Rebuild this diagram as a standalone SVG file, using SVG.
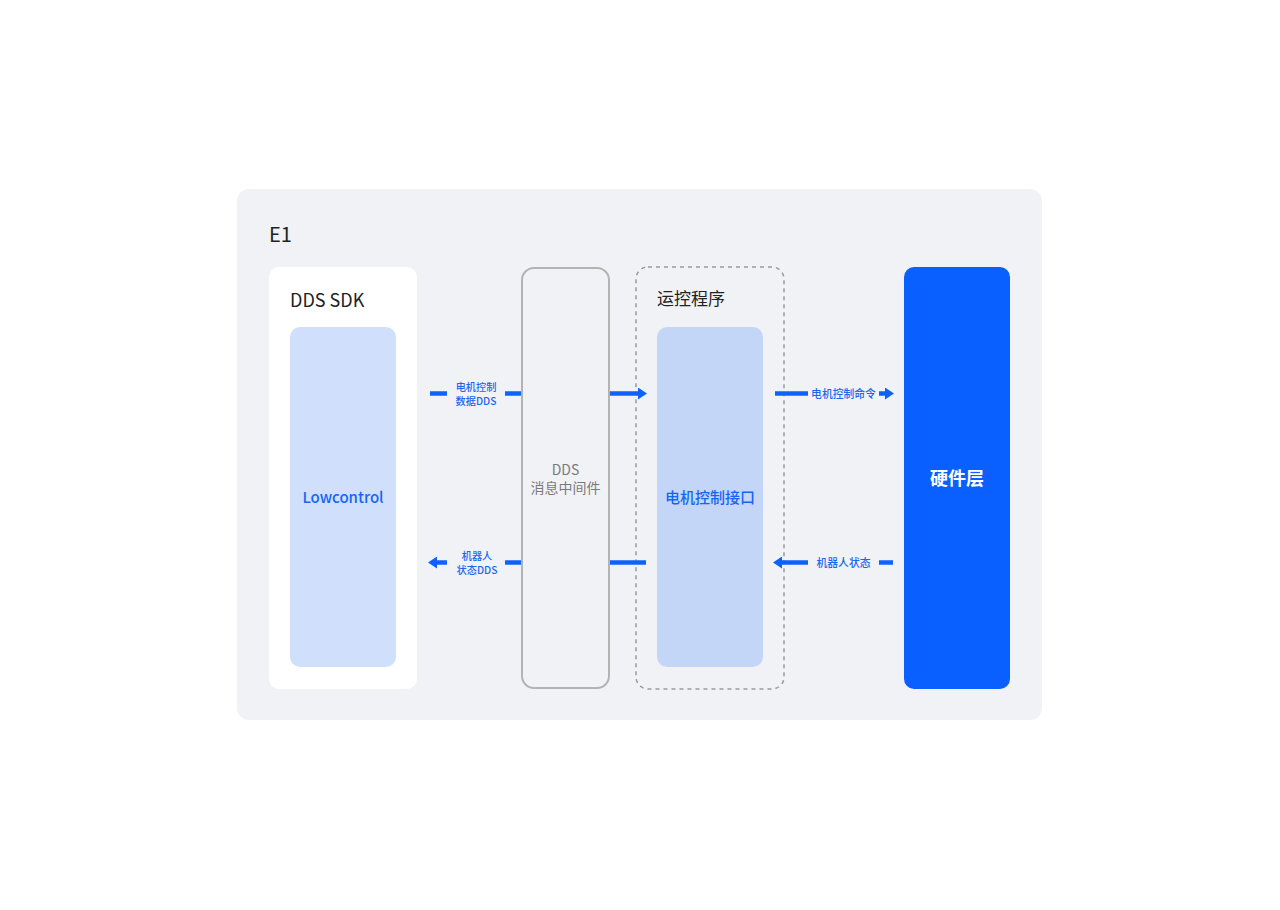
<svg xmlns="http://www.w3.org/2000/svg" width="1280" height="910" viewBox="0 0 1280 910">
<style>
text{font-family:"Noto Sans CJK SC","Noto Sans",sans-serif}
.title{font-size:18px;fill:#222}
.lbl{font-size:10.8px;fill:#1a66f0;font-weight:500}
.lbl2{font-size:10.2px;fill:#1a66f0;font-weight:500}
.ln{stroke:#0c62fb;stroke-width:4.5;fill:none}
</style>
<defs>
<marker id="ah" markerUnits="userSpaceOnUse" markerWidth="10" markerHeight="12" refX="1" refY="6" orient="auto">
<path d="M0,0 L9,6 L0,12 Z" fill="#0c62fb"/>
</marker>
</defs>
<rect width="1280" height="910" fill="#ffffff"/>
<g id="frame">
<rect x="237" y="189" width="805" height="531" rx="12" fill="#f1f2f6"/>
<text x="269" y="242" style="font-size:20px;fill:#222">E1</text>
</g>
<g id="sdk">
<rect x="269" y="267" width="148" height="422" rx="10" fill="#ffffff"/>
<text x="290" y="307" class="title">DDS SDK</text>
</g>
<g id="lowcontrol">
<rect x="290" y="327" width="106" height="340" rx="10" fill="#d0e0fc"/>
<text x="343" y="503" text-anchor="middle" style="font-size:15px;fill:#1565f5;font-weight:500">Lowcontrol</text>
</g>
<g id="middleware">
<rect x="522" y="268" width="87" height="420" rx="12" fill="#f1f2f6" stroke="#b3b3b3" stroke-width="2"/>
<text x="565.5" y="475" text-anchor="middle" style="font-size:14px;fill:#7a7a7a">DDS</text>
<text x="565.5" y="493" text-anchor="middle" style="font-size:14px;fill:#7a7a7a">消息中间件</text>
</g>
<g id="motion">
<rect x="636" y="267" width="148" height="422" rx="12" fill="none" stroke="#9a9a9a" stroke-width="1.5" stroke-dasharray="4,4"/>
<text x="657" y="305" style="font-size:17px;fill:#222">运控程序</text>
</g>
<g id="motor-if">
<rect x="657" y="327" width="106" height="340" rx="10" fill="#c4d6f7"/>
<text x="710" y="503" text-anchor="middle" style="font-size:15px;fill:#1565f5;font-weight:500">电机控制接口</text>
</g>
<g id="hardware">
<rect x="904" y="267" width="106" height="422" rx="10" fill="#0a60ff"/>
<text x="957" y="485" text-anchor="middle" style="font-size:18px;fill:#ffffff;font-weight:700">硬件层</text>
</g>
<g id="connectors">
<line class="ln" x1="430" y1="393.5" x2="447" y2="393.5"/>
<line class="ln" x1="505" y1="393.5" x2="521" y2="393.5"/>
<text x="476" y="391" text-anchor="middle" class="lbl2">电机控制</text>
<text x="476" y="405" text-anchor="middle" class="lbl2">数据DDS</text>
<line class="ln" x1="610" y1="393.5" x2="639" y2="393.5" marker-end="url(#ah)"/>
<line class="ln" x1="775" y1="393.5" x2="808" y2="393.5"/>
<text x="843.5" y="397.5" text-anchor="middle" class="lbl">电机控制命令</text>
<line class="ln" x1="879" y1="393.5" x2="886" y2="393.5" marker-end="url(#ah)"/>

<line class="ln" x1="447" y1="562.5" x2="436" y2="562.5" marker-end="url(#ah)"/>
<text x="477" y="560" text-anchor="middle" class="lbl2">机器人</text>
<text x="477" y="574" text-anchor="middle" class="lbl2">状态DDS</text>
<line class="ln" x1="505" y1="562.5" x2="521" y2="562.5"/>
<line class="ln" x1="610" y1="562.5" x2="646" y2="562.5"/>
<line class="ln" x1="808" y1="562.5" x2="781" y2="562.5" marker-end="url(#ah)"/>
<text x="843.5" y="566.5" text-anchor="middle" class="lbl">机器人状态</text>
<line class="ln" x1="879" y1="562.5" x2="893" y2="562.5"/>
</g>
</svg>
